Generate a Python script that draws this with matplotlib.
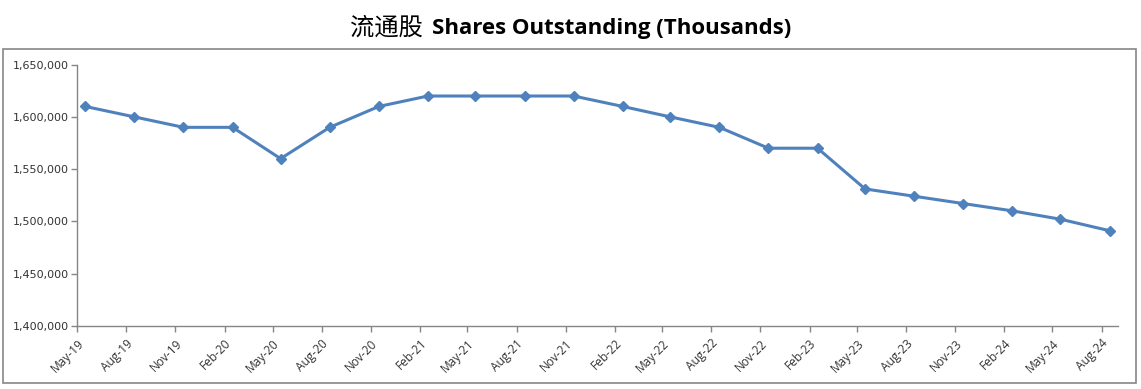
import matplotlib
matplotlib.use("Agg")
import matplotlib.pyplot as plt
from matplotlib.ticker import FuncFormatter, MultipleLocator
from matplotlib.patches import Rectangle
import pandas as pd

# quarterly observations, May-19 .. Aug-24
quarters = ["May-19", "Aug-19", "Nov-19", "Feb-20", "May-20", "Aug-20", "Nov-20",
            "Feb-21", "May-21", "Aug-21", "Nov-21", "Feb-22", "May-22", "Aug-22",
            "Nov-22", "Feb-23", "May-23", "Aug-23", "Nov-23", "Feb-24", "May-24",
            "Aug-24"]
shares = [1610000, 1600000, 1590000, 1590000, 1560000, 1590000, 1610000,
          1620000, 1620000, 1620000, 1620000, 1610000, 1600000, 1590000,
          1570000, 1570000, 1531000, 1524000, 1517000, 1510000, 1502000,
          1491000]

line_color = "#4F81BD"
axis_color = "#868686"
text_color = "#333333"

month_starts = pd.to_datetime(quarters, format="%b-%y")
# points sit mid-month like in the spreadsheet date axis
points = month_starts + pd.Timedelta(days=15)

fig = plt.figure(figsize=(11.41, 3.89), dpi=100)
ax = fig.add_axes([0.0677, 0.1627, 0.9122, 0.671])

ax.plot(points, shares, color=line_color, linewidth=2.2, marker="D",
        markersize=5.5, markerfacecolor=line_color, markeredgecolor=line_color,
        solid_joinstyle="round")

ax.set_ylim(1400000, 1650000)
ax.set_xlim(month_starts[0], month_starts[-1] + pd.DateOffset(months=1))
ax.yaxis.set_major_locator(MultipleLocator(50000))
ax.yaxis.set_major_formatter(FuncFormatter(lambda v, p: f"{int(v):,}"))

ax.set_xticks(month_starts)
ax.set_xticklabels(quarters, rotation=45, ha="right", rotation_mode="anchor",
                   fontsize=8.6, family="Open Sans", color=text_color)
for lab in ax.get_yticklabels():
    lab.set_fontsize(8)
    lab.set_color(text_color)

for side in ["top", "right"]:
    ax.spines[side].set_visible(False)
for side in ["left", "bottom"]:
    ax.spines[side].set_color(axis_color)
    ax.spines[side].set_linewidth(1.0)
ax.tick_params(axis="both", direction="out", length=4, width=1.0,
               color=axis_color)
ax.tick_params(axis="x", pad=4)
ax.tick_params(axis="y", pad=2)

# outer chart border
fig.patches.append(Rectangle((3 / 1141, 1 - 383 / 389), 1133 / 1141, 334 / 389,
                             transform=fig.transFigure, fill=False,
                             edgecolor=axis_color, linewidth=1.2))

# title: Chinese part + bold English part
fig.text(0.3707, 0.928, "流通股", family=["Noto Sans CJK SC", "DejaVu Sans"],
         fontsize=17.5, ha="right", va="center", color="black")
fig.text(0.3786, 0.928, "Shares Outstanding (Thousands)", family="Open Sans",
         fontweight="bold", fontsize=16, ha="left", va="center", color="black")

fig.savefig("out.png", dpi=100)
